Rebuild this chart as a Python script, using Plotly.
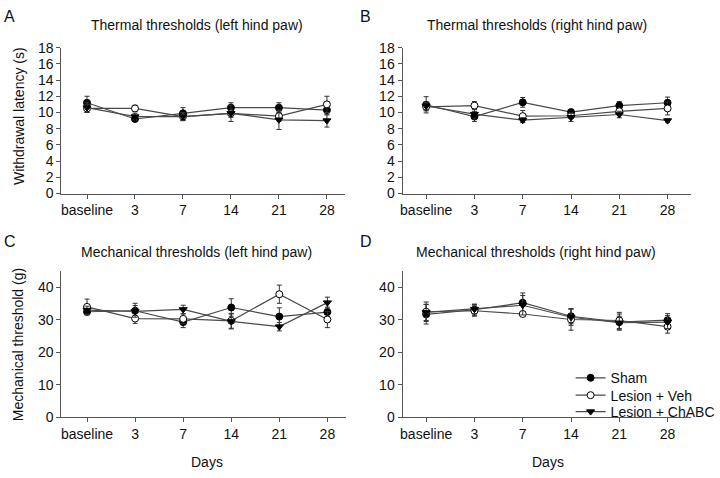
import plotly.graph_objects as go

days = ["baseline", "3", "7", "14", "21", "28"]
xpos = [0, 1, 2, 3, 4, 5]

# Panel A: Thermal thresholds (left hind paw), withdrawal latency (s)
a_sham = [11.2, 9.2, 9.9, 10.6, 10.6, 10.3]
a_sham_err = [0.8, 0.3, 0.7, 0.6, 0.6, 0.6]
a_veh = [10.5, 10.5, 9.5, 9.9, 9.55, 11.0]
a_veh_err = [0.5, 0.4, 0.5, 0.5, 0.6, 1.0]
a_chabc = [10.6, 9.5, 9.5, 9.9, 9.1, 9.0]
a_chabc_err = [0.6, 0.4, 0.5, 1.0, 1.2, 0.8]

# Panel B: Thermal thresholds (right hind paw)
b_sham = [10.95, 9.5, 11.25, 10.05, 10.85, 11.2]
b_sham_err = [1.0, 0.6, 0.6, 0.3, 0.5, 0.7]
b_veh = [10.7, 10.85, 9.55, 9.6, 10.15, 10.5]
b_veh_err = [0.5, 0.5, 0.7, 0.3, 0.4, 0.8]
b_chabc = [10.8, 9.8, 9.05, 9.4, 9.75, 9.0]
b_chabc_err = [0.5, 0.6, 0.3, 0.5, 0.4, 0.2]

# Panel C: Mechanical thresholds (left hind paw), g
c_sham = [32.5, 32.8, 29.3, 33.8, 31.0, 32.4]
c_sham_err = [1.0, 2.3, 1.7, 2.7, 2.7, 1.5]
c_veh = [34.0, 30.4, 30.3, 29.7, 37.9, 30.1]
c_veh_err = [2.4, 1.5, 1.5, 2.3, 2.8, 2.5]
c_chabc = [33.0, 32.6, 33.2, 29.5, 27.9, 35.3]
c_chabc_err = [1.2, 1.8, 1.3, 2.3, 1.3, 1.7]

# Panel D: Mechanical thresholds (right hind paw)
d_sham = [31.7, 33.1, 35.3, 31.1, 29.3, 29.9]
d_sham_err = [3.0, 1.7, 3.0, 2.3, 2.5, 2.0]
d_veh = [32.5, 32.8, 31.8, 30.1, 29.8, 27.9]
d_veh_err = [3.0, 1.7, 0.8, 3.3, 2.5, 2.0]
d_chabc = [32.3, 33.3, 34.5, 30.8, 29.1, 29.3]
d_chabc_err = [2.5, 1.5, 3.0, 2.5, 2.0, 2.0]

panel_titles = ["Thermal thresholds (left hind paw)", "Thermal thresholds (right hind paw)",
                "Mechanical thresholds (left hind paw)", "Mechanical thresholds (right hind paw)"]
panel_letters = ["A", "B", "C", "D"]
series_names = ["Sham", "Lesion + Veh", "Lesion + ChABC"]

W, H = 720, 478
FONT = "Liberation Sans, Arial, sans-serif"
LINE_C = "#4a4a4a"
AX_C = "#555555"

def px(x):
    return x / W

def py(y):
    return 1 - y / H

fig = go.Figure()

panels = [
    (a_sham, a_sham_err, a_veh, a_veh_err, a_chabc, a_chabc_err),
    (b_sham, b_sham_err, b_veh, b_veh_err, b_chabc, b_chabc_err),
    (c_sham, c_sham_err, c_veh, c_veh_err, c_chabc, c_chabc_err),
    (d_sham, d_sham_err, d_veh, d_veh_err, d_chabc, d_chabc_err),
]

marker_styles = [
    dict(symbol="circle", size=7, color="black", line=dict(color="black", width=1)),
    dict(symbol="circle", size=7, color="white", line=dict(color="black", width=1)),
    dict(symbol="triangle-down", size=7, color="black", line=dict(color="black", width=1)),
]
legend_ids = ["legend", "legend2", "legend3"]

for i, p in enumerate(panels):
    suffix = "" if i == 0 else str(i + 1)
    for k in range(3):
        vals, errs = p[2 * k], p[2 * k + 1]
        fig.add_trace(go.Scatter(
            x=xpos, y=vals, mode="lines+markers", name=series_names[k],
            legendgroup=series_names[k], showlegend=(i == 3),
            legend=legend_ids[k],
            line=dict(color=LINE_C, width=1.2),
            marker=marker_styles[k],
            error_y=dict(type="data", array=errs, color="#333333", thickness=1, width=2.5),
            xaxis="x" + suffix, yaxis="y" + suffix,
        ))

# axis geometry (pixels)
x_doms = [(60, 347), (405, 697), (60, 348), (405, 697)]
x_ranges = [(-0.535, 5.38), (-0.49, 5.49), (-0.535, 5.39), (-0.49, 5.49)]
y_doms = [(41, 192), (41, 192), (272.3, 423.3), (272.3, 423.3)]
y_ranges = [(0, 18), (0, 18), (0, 45), (0, 45)]
y_ticks = [list(range(0, 19, 2)), list(range(0, 19, 2)), [0, 10, 20, 30, 40], [0, 10, 20, 30, 40]]

layout = {}
for i in range(4):
    suffix = "" if i == 0 else str(i + 1)
    layout["xaxis" + suffix] = dict(
        domain=[px(x_doms[i][0]), px(x_doms[i][1])], range=list(x_ranges[i]),
        anchor="y" + suffix, tickmode="array", tickvals=xpos, ticktext=days,
        showline=True, linecolor=AX_C, linewidth=1, ticks="outside", ticklen=4,
        tickcolor=AX_C, showgrid=False, zeroline=False,
        tickfont=dict(family=FONT, size=14, color="#111"),
    )
    layout["yaxis" + suffix] = dict(
        domain=[py(y_doms[i][1]), py(y_doms[i][0])], range=list(y_ranges[i]),
        anchor="x" + suffix, tickmode="array", tickvals=y_ticks[i],
        showline=True, linecolor=AX_C, linewidth=1, ticks="outside", ticklen=4,
        tickcolor=AX_C, showgrid=False, zeroline=False,
        tickfont=dict(family=FONT, size=14, color="#111"),
    )

annotations = []
title_pos = [(197, 18), (541, 18), (197, 252), (540, 252)]
letter_pos = [(8, 9), (368, 9), (8, 242), (368, 242)]
for i in range(4):
    annotations.append(dict(text=panel_titles[i], x=px(title_pos[i][0]), y=py(title_pos[i][1]),
                            xref="paper", yref="paper", showarrow=False,
                            xanchor="center", yanchor="middle",
                            font=dict(family=FONT, size=14, color="#111")))
    annotations.append(dict(text=panel_letters[i], x=px(letter_pos[i][0]), y=py(letter_pos[i][1]),
                            xref="paper", yref="paper", showarrow=False,
                            xanchor="center", yanchor="middle",
                            font=dict(family=FONT, size=16, color="#111")))

annotations.append(dict(text="Withdrawal latency (s)", x=px(17), y=py(112), xref="paper", yref="paper",
                        showarrow=False, textangle=-90, xanchor="center", yanchor="middle",
                        font=dict(family=FONT, size=14, color="#111")))
annotations.append(dict(text="Mechanical threshold (g)", x=px(17), y=py(348), xref="paper", yref="paper",
                        showarrow=False, textangle=-90, xanchor="center", yanchor="middle",
                        font=dict(family=FONT, size=14, color="#111")))
for xc in (207, 552):
    annotations.append(dict(text="Days", x=px(xc), y=py(470), xref="paper", yref="paper",
                            showarrow=False, xanchor="center", yanchor="middle",
                            font=dict(family=FONT, size=14, color="#111")))

legend_y = [383, 401, 418]
legend_common = dict(xanchor="left", yanchor="middle",
                     font=dict(family=FONT, size=14, color="#111"),
                     bgcolor="rgba(0,0,0,0)", itemwidth=30)
legends = {}
for k, lid in enumerate(legend_ids):
    legends[lid] = dict(x=px(575), y=py(legend_y[k]), **legend_common)

fig.update_layout(
    width=W, height=H, margin=dict(l=0, r=0, t=0, b=0),
    paper_bgcolor="white", plot_bgcolor="white",
    annotations=annotations,
    showlegend=True,
    **legends,
    **layout,
)

fig.write_html("out.html", config={"displayModeBar": False},
               post_script="document.body.style.margin='0';document.body.style.overflow='hidden';")
